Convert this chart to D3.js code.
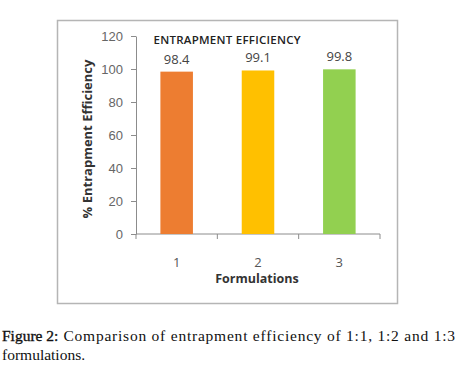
<!DOCTYPE html>
<html>
<head>
<meta charset="utf-8">
<script src="https://cdn.jsdelivr.net/npm/d3@7"></script>
<style>
  body { margin: 0; background: #fff; width: 461px; height: 381px; overflow: hidden; }
</style>
</head>
<body>
<div id="chart"></div>
<script>
const categories = ["1", "2", "3"];
const efficiency = [98.4, 99.1, 99.8];
const barColors = ["#ED7D31", "#FFC000", "#92D050"];
const yTicks = [0, 20, 40, 60, 80, 100, 120];

const width = 461, height = 381;
const svg = d3.select("#chart").append("svg")
  .attr("width", width).attr("height", height)
  .style("font-family", "'Open Sans', sans-serif");

// outer frame
svg.append("rect")
  .attr("x", 57.5).attr("y", 20.5).attr("width", 340).attr("height", 283)
  .attr("fill", "#fff").attr("stroke", "#b5b5b5").attr("stroke-width", 1.5);

const x = d3.scaleBand().domain(categories).range([136, 380]).paddingInner(0.6).paddingOuter(0.3);
const y = d3.scaleLinear().domain([0, 120]).range([234, 36]);

// y axis
const yAxis = svg.append("g").attr("transform", "translate(136,0)")
  .call(d3.axisLeft(y).tickValues(yTicks).tickSize(5).tickSizeOuter(0));
yAxis.select(".domain").attr("stroke", "#8c8c8c");
yAxis.selectAll(".tick line").attr("stroke", "#8c8c8c");
yAxis.selectAll(".tick text").attr("fill", "#666").attr("font-size", 13).attr("x", -13);

// x axis with ticks between categories
const xAxis = svg.append("g").attr("transform", `translate(0,${y(0)})`);
xAxis.append("line").attr("x1", 136).attr("x2", 380).attr("stroke", "#8c8c8c");
xAxis.selectAll(".sep").data(d3.range(categories.length + 1)).join("line")
  .attr("x1", i => 136 + i * (244 / categories.length))
  .attr("x2", i => 136 + i * (244 / categories.length))
  .attr("y1", 0).attr("y2", 5).attr("stroke", "#8c8c8c");
xAxis.selectAll(".lab").data(categories).join("text")
  .attr("x", d => x(d) + x.bandwidth() / 2)
  .attr("y", 33).attr("text-anchor", "middle")
  .attr("fill", "#555").attr("font-size", 13).text(d => d);

// bars
svg.selectAll(".bar").data(efficiency).join("rect")
  .attr("x", (d, i) => x(categories[i]))
  .attr("width", x.bandwidth())
  .attr("y", d => y(d))
  .attr("height", d => y(0) - y(d))
  .attr("fill", (d, i) => barColors[i]);

// value labels
svg.selectAll(".val").data(efficiency).join("text")
  .attr("x", (d, i) => x(categories[i]) + x.bandwidth() / 2)
  .attr("y", d => y(d) - 8)
  .attr("text-anchor", "middle").attr("fill", "#444").attr("font-size", 13)
  .text(d => d.toFixed(1));

// title
svg.append("text").attr("x", 227).attr("y", 44).attr("text-anchor", "middle")
  .attr("font-size", 11.5).attr("fill", "#222").attr("font-weight", 600).attr("textLength", 147)
  .text("ENTRAPMENT EFFICIENCY");

// axis titles
svg.append("text").attr("x", 257).attr("y", 283).attr("text-anchor", "middle")
  .attr("font-size", 12.5).attr("font-weight", "bold").attr("fill", "#333")
  .text("Formulations");
svg.append("text").attr("transform", "translate(92,139) rotate(-90)")
  .attr("text-anchor", "middle").attr("font-size", 13).attr("font-weight", "bold").attr("fill", "#333")
  .text("% Entrapment Efficiency");

// caption
const cap = svg.append("g").attr("font-family", "'Liberation Serif', serif")
  .attr("font-size", 15.5).attr("fill", "#111");
const figLab = cap.append("text").attr("x", 2).attr("y", 341)
  .attr("stroke", "#111").attr("stroke-width", 0.35)
  .text("Figure 2:");
const labEnd = 2 + figLab.node().getComputedTextLength();
cap.append("text").attr("x", labEnd + 5).attr("y", 341)
  .attr("textLength", 455 - labEnd - 5).attr("lengthAdjust", "spacing")
  .text("Comparison of entrapment efficiency of 1:1, 1:2 and 1:3");
cap.append("text").attr("x", 2).attr("y", 360).text("formulations.");
</script>
</body>
</html>
